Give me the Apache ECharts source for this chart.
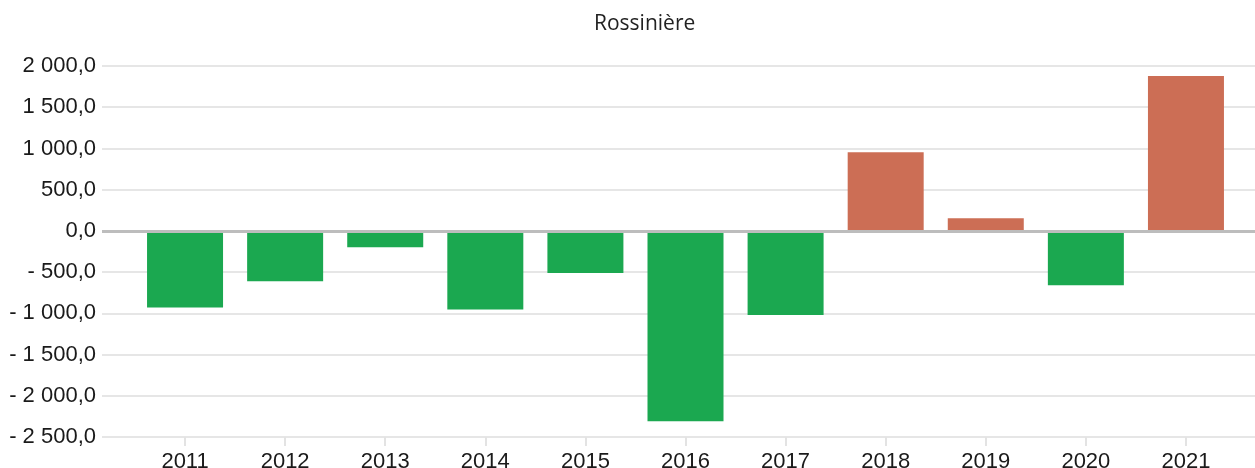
<!DOCTYPE html>
<html>
<head>
<meta charset="utf-8">
<script src="https://cdn.jsdelivr.net/npm/echarts@6/dist/echarts.min.js"></script>
<style>
  html, body { margin: 0; padding: 0; background: #fff; }
  #chart { width: 1255px; height: 468px; }
</style>
</head>
<body>
<div id="chart"></div>
<script>
const title = 'Rossinière'
const years = ['2011', '2012', '2013', '2014', '2015', '2016', '2017', '2018', '2019', '2020', '2021']
const values = [-930, -612, -198, -952, -510, -2310, -1020, 955, 152, -660, 1878]
const yMin = -2500
const yMax = 2000
const yStep = 500

const posColor = '#cc6e55'
const negColor = '#1ba850'

// "- 1 500,0" style
function fmt(v) {
  const abs = Math.abs(v).toFixed(1).split('.')
  const int = abs[0].replace(/\B(?=(\d{3})+(?!\d))/g, ' ')
  const s = int + ',' + abs[1]
  return v < 0 ? '- ' + s : s
}

const chart = echarts.init(document.getElementById('chart'))
const gridTop = 66
const gridBottom = 31

chart.setOption({
  animation: false,
  backgroundColor: '#fff',
  title: {
    text: title,
    left: 589,
    top: 9,
    textStyle: { fontFamily: 'Open Sans', fontSize: 21, fontWeight: 'normal', color: '#222' }
  },
  grid: [
    { left: 102, right: 0, top: gridTop, bottom: gridBottom, outerBoundsMode: 'none', containLabel: false },
    { left: 135, right: 19, top: gridTop, bottom: gridBottom, outerBoundsMode: 'none', containLabel: false }
  ],
  xAxis: [
    { gridIndex: 0, type: 'value', min: 0, max: 1, show: false },
    {
      gridIndex: 1,
      type: 'category',
      data: years,
      axisLine: { show: false, onZero: false },
      axisTick: { show: true, alignWithLabel: true, length: 9, lineStyle: { color: '#e3e3e3', width: 2 } },
      axisLabel: { margin: 14, fontFamily: 'Liberation Sans', fontSize: 22, color: '#1a1a1a' }
    }
  ],
  yAxis: [
    {
      gridIndex: 0,
      type: 'value',
      min: yMin,
      max: yMax,
      interval: yStep,
      axisLine: { show: false },
      axisTick: { show: false },
      splitLine: { lineStyle: { color: '#e6e6e6', width: 2 } },
      axisLabel: { margin: 6, fontFamily: 'Liberation Sans', fontSize: 22, color: '#1a1a1a', formatter: fmt }
    },
    {
      gridIndex: 1,
      type: 'value',
      min: yMin,
      max: yMax,
      interval: yStep,
      show: false,
      splitLine: { show: false }
    }
  ],
  series: [
    {
      type: 'line',
      xAxisIndex: 0,
      yAxisIndex: 0,
      data: [],
      z: 5,
      markLine: {
        silent: true,
        symbol: 'none',
        label: { show: false },
        lineStyle: { color: '#bdbdbd', width: 3, type: 'solid' },
        data: [{ yAxis: 0 }]
      }
    },
    {
      type: 'bar',
      xAxisIndex: 1,
      yAxisIndex: 1,
      barWidth: 76,
      z: 3,
      data: values,
      itemStyle: {
        color: p => (p.value >= 0 ? posColor : negColor)
      }
    }
  ]
})
</script>
</body>
</html>
